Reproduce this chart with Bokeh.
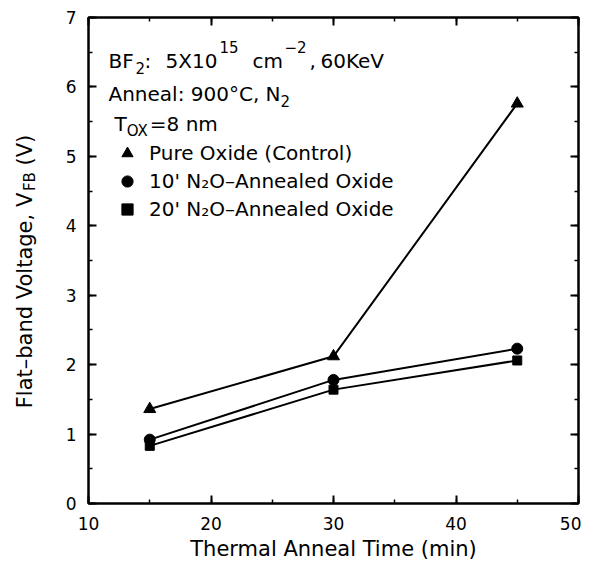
import math
from bokeh.plotting import figure
from bokeh.layouts import row
from bokeh.models import Range1d, LinearAxis, Label, Legend, LegendItem, SingleIntervalTicker
from bokeh.embed import file_html
from bokeh.resources import INLINE

# ---- data ----
time_min = [15, 30, 45]
vfb_pure = [1.36, 2.12, 5.76]
vfb_10min = [0.92, 1.78, 2.23]
vfb_20min = [0.83, 1.64, 2.06]
series_labels = ["Pure Oxide (Control)",
                 "10' N\u2082O\u2013Annealed Oxide",
                 "20' N\u2082O\u2013Annealed Oxide"]
x_label = "Thermal Anneal Time (min)"

FONT = "DejaVu Sans"
FW, FH = 490, 486
TOPB, BOTB = 17, 62
HT = TOPB + FH + BOTB          # total height of both figures
YW = 40                        # width of the strip holding the y title

p = figure(frame_width=FW, frame_height=FH,
           x_range=Range1d(10, 50), y_range=Range1d(0, 7),
           output_backend="svg", toolbar_location=None,
           min_border_left=88 - YW, min_border_right=3,
           min_border_top=TOPB, min_border_bottom=BOTB)
p.xgrid.grid_line_color = None
p.ygrid.grid_line_color = None
p.outline_line_color = "black"
p.outline_line_width = 2
p.background_fill_color = "white"
p.border_fill_color = "white"

bottom = p.below[0]
left = p.left[0]
xt = SingleIntervalTicker(interval=10, num_minor_ticks=2)
yt = SingleIntervalTicker(interval=1, num_minor_ticks=2)
bottom.ticker = xt
left.ticker = yt
top = LinearAxis(ticker=xt)
right = LinearAxis(ticker=yt)
p.add_layout(top, "above")
p.add_layout(right, "right")

for ax in [bottom, left, top, right]:
    ax.axis_line_width = 2
    ax.axis_line_color = "black"
    ax.major_tick_in = 8
    ax.major_tick_out = 0
    ax.minor_tick_in = 4
    ax.minor_tick_out = 0
    ax.major_tick_line_width = 2
    ax.minor_tick_line_width = 1.5
    ax.major_tick_line_color = "black"
    ax.minor_tick_line_color = "black"
    ax.major_label_text_font = FONT
    ax.major_label_text_font_size = "17px"
    ax.major_label_text_color = "black"
for ax in [top, right]:
    ax.major_label_text_font_size = "1px"
    ax.major_label_text_color = None
    ax.major_label_standoff = 0

bottom.major_label_standoff = 13
left.major_label_standoff = 12
bottom.axis_label = x_label
bottom.axis_label_text_font = FONT
bottom.axis_label_text_font_size = "21px"
bottom.axis_label_text_font_style = "normal"
bottom.axis_label_text_color = "black"
bottom.axis_label_standoff = 4

# ---- series ----
series = [(vfb_pure, "triangle", 12), (vfb_10min, "circle", 11), (vfb_20min, "square", 9)]
marks = []
for ys, mk, sz in series:
    p.line(time_min, ys, line_width=2, line_color="black")
    marks.append(p.scatter(time_min, ys, marker=mk, size=sz,
                           fill_color="black", line_color="black"))

legend = Legend(items=[LegendItem(label=lbl, renderers=[r]) for lbl, r in zip(series_labels, marks)],
                location=(25, 280), glyph_width=28, glyph_height=28, spacing=0,
                label_standoff=8, padding=0, margin=0, label_height=28,
                border_line_color=None, background_fill_alpha=0,
                label_text_font=FONT, label_text_font_size="20px",
                label_text_color="black")
p.add_layout(legend)

# ---- text helpers ----
W = {' ': .318, '0': .636, '1': .636, '2': .636, '5': .636, '6': .636, '8': .636, '9': .636,
     'A': .684, 'B': .686, 'C': .698, 'F': .575, 'K': .632, 'N': .748, 'O': .787, 'T': .611,
     'V': .684, 'X': .686, 'a': .613, 'b': .635, 'c': .55, 'd': .635, 'e': .615, 'g': .635,
     'l': .278, 'm': .974, 'n': .634, 'o': .612, 't': .392, ':': .337, ',': .318,
     '=': .838, '\u2212': .838, '\u00b0': .5, '(': .39, ')': .39, '\u2013': .5}


def tw(s, size):
    return sum(W.get(c, .6) for c in s) * size


def rx(px):
    return px - 89


def ry(py):
    return FH - (py - 19)


def lab(fig, text, x, y, size, angle=0.0):
    fig.add_layout(Label(x=x, y=y, x_units="screen", y_units="screen", text=text,
                         text_font=FONT, text_font_size=f"{size}px", text_color="black",
                         text_align="left", text_baseline="alphabetic", angle=angle))


M, S = 20, 15
# line 1: BF2: 5X10^15 cm^-2, 60KeV
lab(p, "BF", rx(109), ry(62), M)
lab(p, "2", rx(136), ry(69), S)
lab(p, ":", rx(145), ry(62), M)
lab(p, "5X10", rx(166), ry(62), M)
lab(p, "15", rx(220), ry(48), S)
lab(p, "cm", rx(253), ry(62), M)
lab(p, "\u22122", rx(285), ry(48), S)
lab(p, ",", rx(310), ry(62), M)
lab(p, "60KeV", rx(321), ry(62), M)
# line 2: Anneal: 900°C, N2
t2 = "Anneal: 900\u00b0C, N"
lab(p, t2, rx(109), ry(95), M)
lab(p, "2", rx(109) + tw(t2, M), ry(102), S)
# line 3: T_OX=8 nm
lab(p, "T", rx(115), ry(125), M)
lab(p, "OX", rx(115) + tw("T", M), ry(132), S)
lab(p, "=8 nm", rx(115) + tw("T", M) + tw("OX", S) + 1, ry(125), M)

# ---- y title strip (its own small figure, so the text is not clipped) ----
py_fig = figure(frame_width=YW, frame_height=HT, x_range=Range1d(0, 1), y_range=Range1d(0, 1),
                output_backend="svg", toolbar_location=None,
                x_axis_location=None, y_axis_location=None, min_border=0)
py_fig.xgrid.grid_line_color = None
py_fig.ygrid.grid_line_color = None
py_fig.outline_line_color = None
py_fig.background_fill_color = "white"
py_fig.border_fill_color = "white"

YM, YS = 21, 15
ya, yb, yc = "Flat\u2013band Voltage, V", "FB", "(V)"
L = tw(ya, YM) + tw(yb, YS) + tw(" ", YM) + tw(yc, YM)
# centre of the title sits ~7px above the plot-frame centre (page coords)
centre_page = 19 + FH / 2 - 7
y0 = (HT - (centre_page - 1)) - L / 2
xb = 25 - 1
up = math.pi / 2
lab(py_fig, ya, xb, y0, YM, up)
lab(py_fig, yb, xb + 5, y0 + tw(ya, YM), YS, up)
lab(py_fig, yc, xb, y0 + tw(ya, YM) + tw(yb, YS) + tw(" ", YM), YM, up)

layout = row(py_fig, p, spacing=0)
open("out.html", "w").write(file_html(layout, INLINE))
